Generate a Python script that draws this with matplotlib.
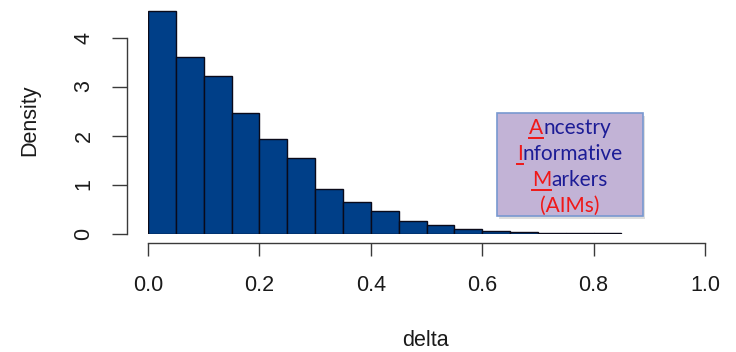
import matplotlib
matplotlib.use("Agg")
import matplotlib.pyplot as plt
from matplotlib.patches import Rectangle
from matplotlib.lines import Line2D

# ---- data ----
bin_edges = [0.00, 0.05, 0.10, 0.15, 0.20, 0.25, 0.30, 0.35, 0.40,
             0.45, 0.50, 0.55, 0.60, 0.65, 0.70, 0.75, 0.80, 0.85]
densities = [4.55, 3.61, 3.21, 2.45, 1.92, 1.54, 0.91, 0.65, 0.45,
             0.26, 0.18, 0.10, 0.06, 0.04, 0.02, 0.01, 0.005]
x_ticks = [0.0, 0.2, 0.4, 0.6, 0.8, 1.0]
x_tick_labels = ["0.0", "0.2", "0.4", "0.6", "0.8", "1.0"]
y_ticks = [0, 1, 2, 3, 4]
y_tick_labels = ["0", "1", "2", "3", "4"]
x_label = "delta"
y_label = "Density"
box_lines = [("A", "ncestry"), ("I", "nformative"), ("M", "arkers")]
box_last = "(AIMs)"

W, H = 736, 352
DPI = 100
plt.rcParams["font.family"] = ["Liberation Sans", "DejaVu Sans"]

fig = plt.figure(figsize=(W / DPI, H / DPI), dpi=DPI)

def fx(px):
    return px / W

def fy(py):
    return 1 - py / H

# axes: x 0..1 -> px 148..705 ; y 0 -> py 233.5, 49 px per unit
ymax = 4.6
y0_px = 233.5
ytop_px = y0_px - ymax * 49.0
ax = fig.add_axes([fx(148), fy(y0_px), fx(705) - fx(148), (y0_px - ytop_px) / H])
ax.set_xlim(0, 1)
ax.set_ylim(0, ymax)

widths = [bin_edges[i + 1] - bin_edges[i] for i in range(len(densities))]
ax.bar(bin_edges[:-1], densities, width=widths, align="edge",
       color="#003F88", edgecolor="#0a0a1a", linewidth=1.0)

for s in ["top", "right"]:
    ax.spines[s].set_visible(False)
spine_col = "#3a3a3a"
ax.spines["left"].set_position(("outward", 21.5 * 72 / DPI))
ax.spines["bottom"].set_position(("outward", 9.8 * 72 / DPI))
ax.spines["left"].set_bounds(0, 4)
ax.spines["bottom"].set_bounds(0, 1)
for s in ["left", "bottom"]:
    ax.spines[s].set_color(spine_col)
    ax.spines[s].set_linewidth(1.0)

ax.set_xticks(x_ticks)
ax.set_xticklabels(x_tick_labels)
ax.set_yticks(y_ticks)
ax.set_yticklabels(y_tick_labels, rotation=90, va="center")
ax.tick_params(axis="x", length=9.6, width=1.0, color=spine_col, pad=13,
               labelsize=15.5, labelcolor="#1a1a1a")
ax.tick_params(axis="y", length=11, width=1.0, color=spine_col, pad=12,
               labelsize=15.5, labelcolor="#1a1a1a")

fig.text(fx(425), fy(340), x_label, ha="center", va="center",
         fontsize=15.5, color="#1a1a1a")
fig.text(fx(30), fy(120), y_label, ha="center", va="center",
         rotation=90, fontsize=15.5, color="#1a1a1a")

# ---- annotation box ----
bx0, bx1, by0, by1 = 497, 643, 113, 216
shadow = Rectangle((fx(bx0 + 2), fy(by1 + 3)), fx(bx1) - fx(bx0), fy(by0) - fy(by1),
                   transform=fig.transFigure, facecolor="#c8c8c8", edgecolor="none",
                   alpha=0.6, zorder=4)
fig.add_artist(shadow)
box = Rectangle((fx(bx0), fy(by1)), fx(bx1) - fx(bx0), fy(by0) - fy(by1),
                transform=fig.transFigure, facecolor="#C2B3D6",
                edgecolor="#7898D0", linewidth=1.2, zorder=5)
fig.add_artist(box)

box_font = ["Lato", "DejaVu Sans"]
fs_box = 15
navy = "#1C1C96"
red = "#F01818"
line_y = [128, 154, 180, 206]
cx = (bx0 + bx1) / 2
renderer = fig.canvas.get_renderer()
for (first, rest), ypx in zip(box_lines, line_y):
    t1 = fig.text(0, 0, first, fontsize=fs_box, family=box_font, color=red)
    t2 = fig.text(0, 0, rest, fontsize=fs_box, family=box_font, color=navy)
    w1 = t1.get_window_extent(renderer).width
    w2 = t2.get_window_extent(renderer).width
    left = cx - (w1 + w2) / 2
    t1.set_position((fx(left), fy(ypx)))
    t1.set_va("center"); t1.set_ha("left"); t1.set_zorder(6)
    t2.set_position((fx(left + w1), fy(ypx)))
    t2.set_va("center"); t2.set_ha("left"); t2.set_zorder(6)
    ul = Line2D([fx(left), fx(left + w1)], [fy(ypx + 10), fy(ypx + 10)],
                transform=fig.transFigure, color=red, linewidth=1.4, zorder=6)
    fig.add_artist(ul)
fig.text(fx(cx), fy(line_y[3]), box_last, fontsize=fs_box, family=box_font,
         color=red, ha="center", va="center", zorder=6)

fig.savefig("out.png", dpi=DPI)
